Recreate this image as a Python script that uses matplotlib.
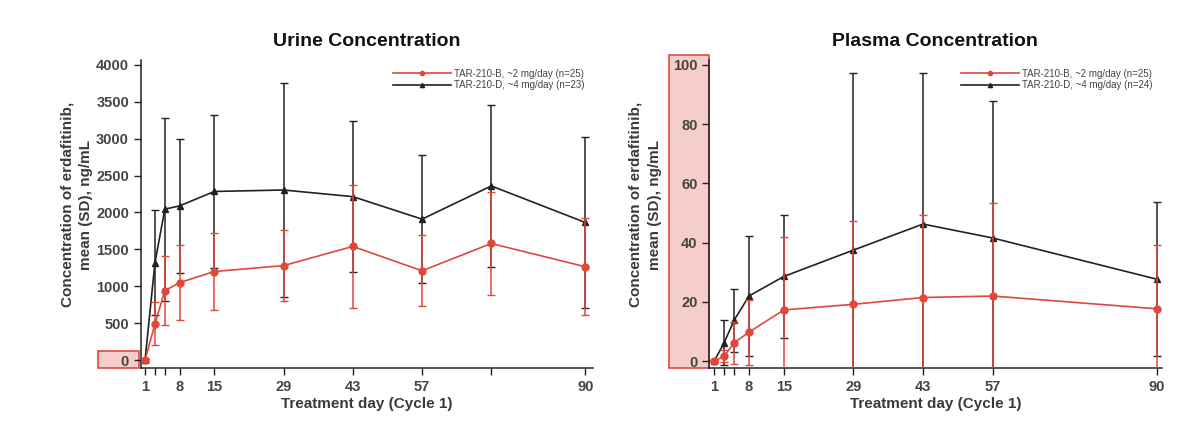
import numpy as np
import matplotlib.pyplot as plt
from matplotlib.patches import Rectangle
from matplotlib.lines import Line2D

plt.rcParams['font.family'] = ['Liberation Sans', 'DejaVu Sans']

# 尿液数据
urine_days = [1, 3, 5, 8, 15, 29, 43, 57, 71, 90]
urine_b_mean = [0, 490, 940, 1050, 1200, 1280, 1540, 1210, 1580, 1265]
urine_b_sd = [20, 290, 470, 510, 520, 485, 830, 480, 700, 660]
urine_d_mean = [0, 1320, 2045, 2090, 2285, 2305, 2215, 1910, 2360, 1865]
urine_d_sd = [20, 715, 1240, 905, 1040, 1450, 1020, 870, 1100, 1160]

# 血浆数据
plasma_days = [1, 3, 5, 8, 15, 29, 43, 57, 90]
plasma_b_mean = [0, 1.7, 6.2, 9.8, 17.3, 19.2, 21.5, 22.0, 17.7]
plasma_b_sd = [0.3, 2.0, 7.0, 11.0, 24.5, 28.0, 28.0, 31.3, 21.6]
plasma_d_mean = [0, 6.2, 13.8, 22.0, 28.6, 37.5, 46.3, 41.6, 27.7]
plasma_d_sd = [0.3, 7.6, 10.7, 20.2, 20.9, 59.7, 51.0, 46.2, 26.0]

urine_ticks = [1, 3, 5, 8, 15, 29, 43, 57, 71, 90]
urine_ticklabels = ['1', '', '', '8', '15', '29', '43', '57', '', '90']
plasma_ticks = [1, 3, 5, 8, 15, 29, 43, 57, 90]
plasma_ticklabels = ['1', '', '', '8', '15', '29', '43', '57', '90']

label_b = 'TAR-210-B, ~2 mg/day (n=25)'
label_d_urine = 'TAR-210-D, ~4 mg/day (n=23)'
label_d_plasma = 'TAR-210-D, ~4 mg/day (n=24)'

RED = '#e0483c'
BLACK = '#222222'
TEXT = '#3a3a3a'


def draw_panel(ax, days, b_mean, b_sd, d_mean, d_sd, label_d, title,
               ticks, ticklabels, yticks, xlim, ylim):
    ax.set_facecolor('none')
    ax.errorbar(days, d_mean, yerr=d_sd, color=BLACK, marker='^', markersize=5,
                linewidth=1.2, elinewidth=1.1, capsize=3, zorder=2)
    ax.errorbar(days, b_mean, yerr=b_sd, color=RED, marker='o', markersize=5,
                linewidth=1.2, elinewidth=1.1, capsize=3, zorder=3)
    ax.set_xlim(*xlim)
    ax.set_ylim(*ylim)
    ax.set_xticks(ticks)
    ax.set_xticklabels(ticklabels)
    ax.set_yticks(yticks)
    ax.spines['top'].set_visible(False)
    ax.spines['right'].set_visible(False)
    for s in ('left', 'bottom'):
        ax.spines[s].set_color(BLACK)
        ax.spines[s].set_linewidth(1.1)
    ax.tick_params(direction='out', length=5, width=1, colors=BLACK,
                   labelsize=10.5, labelcolor='#444444')
    for t in ax.get_xticklabels() + ax.get_yticklabels():
        t.set_fontweight('bold')
    ax.set_title(title, fontsize=14, fontweight='bold', pad=10, color='#111111')
    ax.set_xlabel('Treatment day (Cycle 1)', fontsize=11, fontweight='bold',
                  color=TEXT, labelpad=2)
    ax.set_ylabel('Concentration of erdafitinib,\nmean (SD), ng/mL',
                  fontsize=11, fontweight='bold', color=TEXT, labelpad=5,
                  linespacing=1.45)
    ax.yaxis.set_label_coords(-0.105, 0.53)
    handles = [Line2D([], [], color=RED, marker='o', markersize=3, linewidth=1.2),
               Line2D([], [], color=BLACK, marker='^', markersize=3, linewidth=1.2)]
    leg = ax.legend(handles, [label_b, label_d], loc='upper right',
                    bbox_to_anchor=(1.0, 1.0), frameon=False, fontsize=7,
                    handlelength=6, labelspacing=0.15, handletextpad=0.3)
    for t in leg.get_texts():
        t.set_color('#444444')


fig = plt.figure(figsize=(12, 4.42), dpi=100)

# 红色高亮框（放在坐标轴后面）
fig.add_artist(Rectangle((0.0817, 0.1674), 0.0341, 0.0385, transform=fig.transFigure,
                         facecolor='#f5cdca', edgecolor=RED, linewidth=1.2, zorder=-1))
fig.add_artist(Rectangle((0.5575, 0.1674), 0.0333, 0.708, transform=fig.transFigure,
                         facecolor='#f5cdca', edgecolor=RED, linewidth=1.2, zorder=-1))

ax1 = fig.add_axes([0.1173, 0.1674, 0.377, 0.697])
ax2 = fig.add_axes([0.591, 0.1674, 0.377, 0.697])

draw_panel(ax1, urine_days, urine_b_mean, urine_b_sd, urine_d_mean, urine_d_sd,
           label_d_urine, 'Urine Concentration', urine_ticks, urine_ticklabels,
           range(0, 4001, 500), (0.13, 91.6), (-108, 4068))
draw_panel(ax2, plasma_days, plasma_b_mean, plasma_b_sd, plasma_d_mean, plasma_d_sd,
           label_d_plasma, 'Plasma Concentration', plasma_ticks, plasma_ticklabels,
           range(0, 101, 20), (0.0, 91.0), (-2.3, 101.7))

fig.savefig('out.png', dpi=100, facecolor='white')
